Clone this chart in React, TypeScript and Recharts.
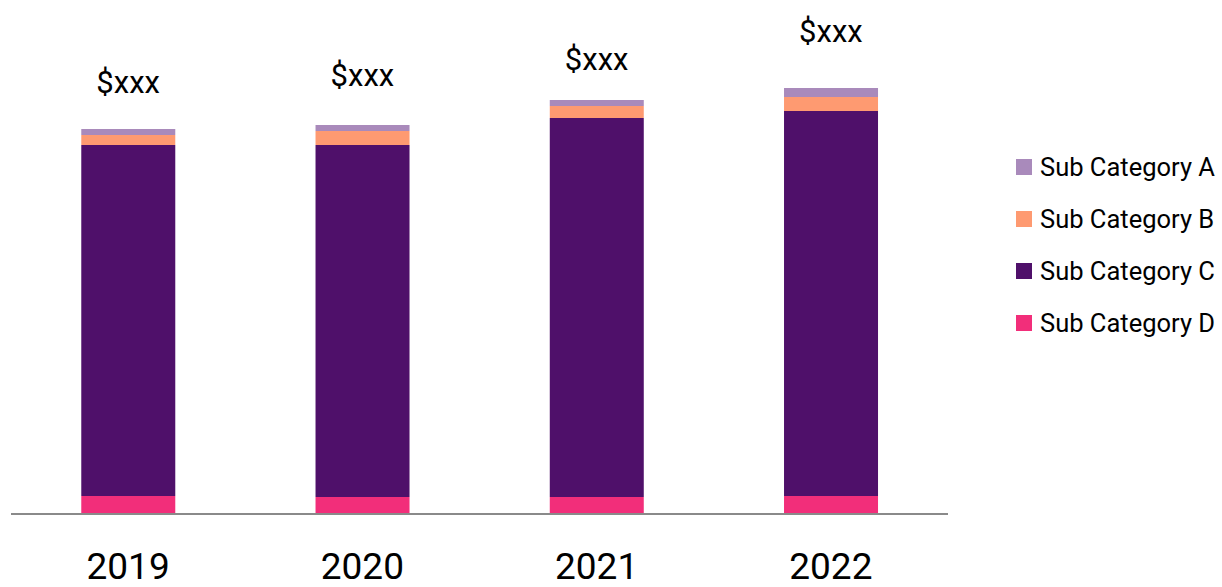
import React from 'react';
import { ComposedChart, Bar, Line, XAxis, YAxis, Legend, LabelList } from 'recharts';

const years = ['2019', '2020', '2021', '2022'];
const subA = [6, 6, 6, 9];
const subB = [10, 14, 12, 14];
const subC = [351, 352, 379, 385];
const subD = [18, 17, 17, 18];
const totalLabels = ['$xxx', '$xxx', '$xxx', '$xxx'];
const labelHeights = [432, 439, 455, 483];

const data = years.map((y, i) => ({
  year: y,
  a: subA[i],
  b: subB[i],
  c: subC[i],
  d: subD[i],
  lbl: labelHeights[i],
  text: totalLabels[i],
}));

const series = [
  { key: 'a', name: 'Sub Category A', color: '#a98abb' },
  { key: 'b', name: 'Sub Category B', color: '#fe9a71' },
  { key: 'c', name: 'Sub Category C', color: '#4f106a' },
  { key: 'd', name: 'Sub Category D', color: '#f22e7a' },
];

const FONT = 'Roboto, sans-serif';

const YearTick = (props: any) => {
  const { x, y, payload } = props;
  return (
    <text x={x} y={y} dy={57} textAnchor="middle" fontFamily={FONT} fontSize={37} fill="#000">
      {payload.value}
    </text>
  );
};

const TopLabel = (props: any) => {
  const { x, y, value } = props;
  return (
    <text x={x} y={y} dy={11} textAnchor="middle" fontFamily={FONT} fontSize={31} fill="#000">
      {value}
    </text>
  );
};

const LegendContent = () => (
  <div style={{ fontFamily: FONT }}>
    {series.map((s) => (
      <div key={s.key} style={{ display: 'flex', alignItems: 'center', height: 52 }}>
        <div style={{ width: 16, height: 16, background: s.color, marginRight: 8 }} />
        <span style={{ fontSize: 25.5, color: '#000', whiteSpace: 'nowrap' }}>{s.name}</span>
      </div>
    ))}
  </div>
);

export default function App() {
  return (
    <div style={{ position: 'absolute', left: 0, top: 0, background: '#fff' }}>
      <ComposedChart
        width={1222}
        height={587}
        data={data}
        margin={{ top: 14, right: 68, left: 11, bottom: 0 }}
        barCategoryGap="30%"
      >
        <XAxis
          dataKey="year"
          axisLine={{ stroke: '#8a8a8a', strokeWidth: 2 }}
          tickLine={false}
          tick={<YearTick />}
          height={73}
          interval={0}
        />
        <YAxis hide domain={[0, 500]} />
        <Legend
          layout="vertical"
          align="right"
          verticalAlign="top"
          content={<LegendContent />}
          wrapperStyle={{ left: 1016, top: 141, width: 206 }}
        />
        <Bar dataKey="d" stackId="s" fill="#f22e7a" isAnimationActive={false} />
        <Bar dataKey="c" stackId="s" fill="#4f106a" isAnimationActive={false} />
        <Bar dataKey="b" stackId="s" fill="#fe9a71" isAnimationActive={false} />
        <Bar dataKey="a" stackId="s" fill="#a98abb" isAnimationActive={false} />
        <Line
          dataKey="lbl"
          stroke="none"
          dot={false}
          activeDot={false}
          legendType="none"
          isAnimationActive={false}
        >
          <LabelList dataKey="text" content={<TopLabel />} />
        </Line>
      </ComposedChart>
    </div>
  );
}
